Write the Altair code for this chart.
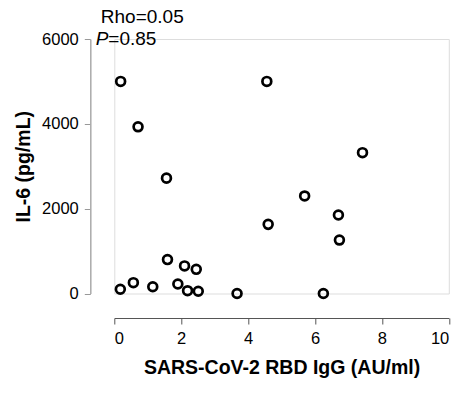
import altair as alt
import pandas as pd

igg = [0.19, 4.56, 0.71, 7.42, 1.56, 5.69, 6.70, 4.60, 6.73, 1.59,
       2.10, 2.45, 0.57, 0.18, 1.15, 1.90, 2.19, 2.51, 3.67, 6.25]
il6 = [5000, 5000, 3930, 3320, 2720, 2300, 1850, 1630, 1260, 800,
       650, 570, 255, 100, 160, 224, 66, 52, 0, 0]

x_ticks = [0, 2, 4, 6, 8, 10]
y_ticks = [0, 2000, 4000, 6000]

stat_text = ["Rho=0.05", "P", "=0.85"]

df = pd.DataFrame({"igg": igg, "il6": il6})
one = pd.DataFrame({"k": [0]})

FONT = "Liberation Sans"

points = alt.Chart(df).mark_point(
    shape="circle", filled=False, color="black", size=78, strokeWidth=2.7, opacity=1
).encode(
    x=alt.X("igg:Q", scale=alt.Scale(domain=[0, 10], nice=False, zero=False),
            axis=alt.Axis(values=x_ticks, title="SARS-CoV-2 RBD IgG (AU/ml)",
                          offset=24.5, domainColor="#555555", tickColor="#555555",
                          tickSize=6, labelPadding=6, labelFontSize=16.5,
                          labelColor="black", titleFontSize=19.5, titleFontWeight="bold",
                          titleColor="black", titlePadding=12, grid=False,
                          labelFont=FONT, titleFont=FONT, format="d")),
    y=alt.Y("il6:Q", scale=alt.Scale(domain=[0, 6000], nice=False),
            axis=alt.Axis(values=y_ticks, title="IL-6 (pg/mL)",
                          offset=24, domainColor="#aaaaaa", domainWidth=1.5,
                          tickColor="#999999", tickSize=6, labelPadding=6,
                          labelFontSize=16.5, labelColor="black", titleFontSize=19.5,
                          titleFontWeight="bold", titleColor="black", titlePadding=8,
                          grid=False, labelFont=FONT, titleFont=FONT, format="d")),
)

rho = alt.Chart(one).mark_text(
    text=stat_text[0], align="left", baseline="alphabetic", fontSize=19, font=FONT, color="black"
).encode(x=alt.value(-13.5), y=alt.value(-16))

p_it = alt.Chart(one).mark_text(
    text=stat_text[1], align="left", baseline="alphabetic", fontSize=19, font=FONT,
    fontStyle="italic", color="black"
).encode(x=alt.value(-18.5), y=alt.value(6))

p_val = alt.Chart(one).mark_text(
    text=stat_text[2], align="left", baseline="alphabetic", fontSize=19, font=FONT, color="black"
).encode(x=alt.value(-6), y=alt.value(6))

chart = alt.layer(points, rho, p_it, p_val).properties(
    width=334.5, height=254.5,
    autosize=alt.AutoSizeParams(type="none"),
    padding={"left": 114.3, "top": 39, "right": 8.2, "bottom": 103.5},
).configure_view(stroke=None).configure(background="white")

chart.save("out.html", embed_options={"renderer": "svg", "actions": False})
